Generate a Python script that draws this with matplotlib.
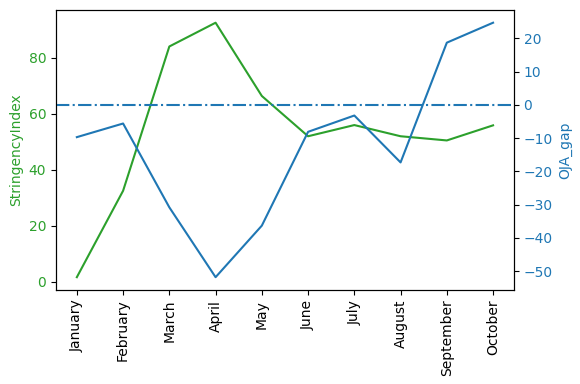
import matplotlib
matplotlib.use('Agg')
import matplotlib.pyplot as plt

months = ['January', 'February', 'March', 'April', 'May', 'June',
          'July', 'August', 'September', 'October']
stringency = [1.6, 32.5, 84.1, 92.6, 66.4, 52.0, 56.0, 52.0, 50.5, 55.9]
oja_gap = [-9.7, -5.6, -30.8, -51.8, -36.3, -8.1, -3.2, -17.3, 18.7, 24.7]

fig, ax1 = plt.subplots(figsize=(5.8, 3.84), dpi=100)
fig.subplots_adjust(left=0.0966, right=0.886, top=0.974, bottom=0.245)

ax1.plot(months, stringency, color='tab:green')
ax1.set_ylabel('StringencyIndex', color='tab:green')
ax1.tick_params(axis='y', labelcolor='tab:green')
ax1.tick_params(axis='x', labelrotation=90)

ax2 = ax1.twinx()
ax2.plot(months, oja_gap, color='tab:blue')
ax2.axhline(0, color='tab:blue', linestyle='-.')
ax2.set_ylabel('OJA_gap', color='tab:blue')
ax2.tick_params(axis='y', labelcolor='tab:blue')

fig.savefig('out.png')
